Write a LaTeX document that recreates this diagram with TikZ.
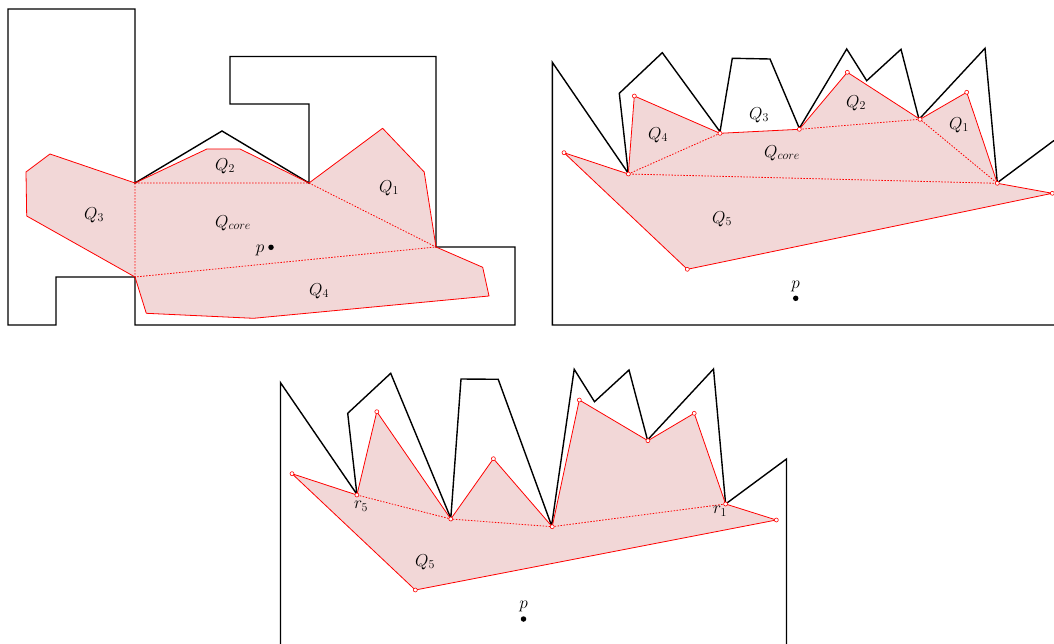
\documentclass[tikz,border=0pt]{standalone}
\definecolor{pinkfill}{RGB}{242,215,215}
\tikzset{
  wall/.style={black,line width=1.4pt,line join=miter},
  cut/.style={red,line width=0.8pt,dash pattern=on 1.5pt off 1.5pt},
  redline/.style={red,line width=0.8pt,line join=round},
  vtx/.style={circle,draw=red,fill=white,line width=0.6pt,inner sep=0pt,minimum size=4pt},
  lab/.style={inner sep=0pt,font=\fontsize{17}{20}\selectfont},
  pdot/.style={circle,fill=black,inner sep=0pt,minimum size=5.5pt}
}
\begin{document}
\begin{tikzpicture}[x=1pt,y=-1pt]
\useasboundingbox (0,0) rectangle (1054,644);
% ---------------- Panel 1 ----------------
\fill[pinkfill] (50,154) -- (26,172) -- (26.7,216) -- (135,277) -- (146.3,313.3) -- (253.5,318.3) -- (489,296) -- (482.7,267.3) -- (436,247) -- (424.2,172) -- (382.6,128.3) -- (309,183) -- (240,149) -- (206.9,149) -- (135,183) -- cycle;
\draw[wall] (8,9) -- (135,9) -- (135,183) -- (222,131) -- (309,183) -- (309,104) -- (230,104) -- (230,56.5) -- (436,56.5) -- (436,247) -- (515,247) -- (515,325) -- (135,325) -- (135,277) -- (56,277) -- (56,325) -- (8,325) -- cycle;
\draw[redline] (135,277) -- (26.7,216) -- (26,172) -- (50,154) -- (135,183) -- (206.9,149) -- (240,149) -- (309,183) -- (382.6,128.3) -- (424.2,172) -- (436,247) -- (482.7,267.3) -- (489,296) -- (253.5,318.3) -- (146.3,313.3) -- (135,277);
\draw[cut] (135,183) -- (309,183) -- (436,247) -- (135,277) -- cycle;
\node[lab] (aQ2) at (225,166) {$Q_2$};
\node[lab] (aQ1) at (389,188) {$Q_1$};
\node[lab] (aQ3) at (94,215) {$Q_3$};
\node[lab] (aQc) at (233,223) {$Q_{core}$};
\node[lab] (aQ4) at (319,291) {$Q_4$};
\node[pdot] (ap) at (271,247.3) {};
\node[lab] (apl) at (260,250) {$p$};
% ---------------- Panel 2 ----------------
\fill[pinkfill] (564,152.7) -- (628.3,174) -- (634.3,96) -- (720,133.3) -- (799.3,129.3) -- (847.3,72.3) -- (920,119.3) -- (966.7,92.3) -- (997.3,183.3) -- (1052.3,193.3) -- (687.3,269.3) -- cycle;
\draw[wall] (1054,325) -- (552.3,325) -- (552.3,62.3) -- (628.3,173.3) -- (619.3,93.3) -- (662.3,52.7) -- (720,131.7) -- (732.3,58.3) -- (770,59) -- (799.3,128.3) -- (846.7,49) -- (866.7,80.7) -- (901,49.3) -- (919,119.3) -- (985,48.3) -- (997.3,182.7) -- (1054,140.5);
\draw[redline] (564,152.7) -- (628.3,174) -- (634.3,96) -- (720,133.3) -- (799.3,129.3) -- (847.3,72.3) -- (920,119.3) -- (966.7,92.3) -- (997.3,183.3) -- (1052.3,193.3) -- (687.3,269.3) -- cycle;
\draw[cut] (628.3,174) -- (720,133.3);
\draw[cut] (799.3,129.3) -- (920,119.3) -- (997.3,183.3) -- (628.3,174);
\foreach \p in {(564,152.7),(628.3,174),(634.3,96),(720,133.3),(799.3,129.3),(847.3,72.3),(920,119.3),(966.7,92.3),(997.3,183.3),(1052.3,193.3),(687.3,269.3)}
  \node[vtx] at \p {};
\node[lab] (bQ4) at (658,135) {$Q_4$};
\node[lab] (bQ3) at (759,115) {$Q_3$};
\node[lab] (bQ2) at (856,103) {$Q_2$};
\node[lab] (bQ1) at (959,125) {$Q_1$};
\node[lab] (bQc) at (782,153) {$Q_{core}$};
\node[lab] (bQ5) at (722,219) {$Q_5$};
\node[pdot] (bp) at (795.7,298.3) {};
\node[lab] (bpl) at (795.7,286) {$p$};
% ---------------- Panel 3 ----------------
\fill[pinkfill] (292,473.7) -- (356.9,495) -- (376.8,411.7) -- (450.8,519) -- (493.4,458.7) -- (552.2,526.7) -- (579.3,400) -- (647.9,440.7) -- (694.2,413.3) -- (725.6,504) -- (776.3,520) -- (415.3,590) -- cycle;
\draw[wall] (280.5,644) -- (280.5,382.7) -- (356.9,494.3) -- (347.7,413.3) -- (390.7,373.3) -- (450.8,518.3) -- (461,379) -- (498.2,379.3) -- (551.6,525.7) -- (574.2,369.3) -- (594.5,401.7) -- (629,370) -- (647.5,440) -- (713.5,369) -- (725.6,504) -- (786.5,459) -- (786.5,644);
\draw[redline] (292,473.7) -- (356.9,495) -- (376.8,411.7) -- (450.8,519) -- (493.4,458.7) -- (552.2,526.7) -- (579.3,400) -- (647.9,440.7) -- (694.2,413.3) -- (725.6,504) -- (776.3,520) -- (415.3,590) -- cycle;
\draw[cut] (356.9,495) -- (450.8,519) -- (552.2,526.7) -- (725.6,504);
\foreach \p in {(292,473.7),(356.9,495),(376.8,411.7),(450.8,519),(493.4,458.7),(552.2,526.7),(579.3,400),(647.9,440.7),(694.2,413.3),(725.6,504),(776.3,520),(415.3,590)}
  \node[vtx] at \p {};
\node[lab] (cr5) at (361,506) {$r_5$};
\node[lab] (cr1) at (720,511) {$r_1$};
\node[lab] (cQ5) at (425,562) {$Q_5$};
\node[pdot] (cp) at (523.5,619) {};
\node[lab] (cpl) at (523.5,606.5) {$p$};
\end{tikzpicture}
\end{document}
